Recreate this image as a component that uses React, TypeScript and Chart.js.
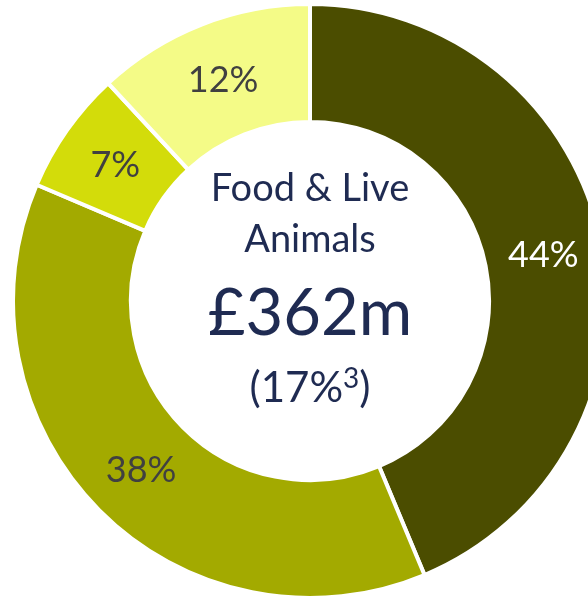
import React, { useEffect, useRef } from "react";
import { Chart, registerables } from "chart.js";

Chart.register(...registerables);

const categories = ["Segment A", "Segment B", "Segment C", "Segment D"];
const shares = [43.7, 37.7, 6.7, 11.9];
const shareLabels = ["44%", "38%", "7%", "12%"];
const sliceColors = ["#4B4D00", "#A3AA00", "#D3DC0A", "#F4FB87"];
const labelColors = ["#FFFFFF", "#404040", "#404040", "#404040"];
const centerTitle = ["Food & Live", "Animals"];
const centerValue = "£362m";
const centerShare = "(17%";
const centerNote = "3";

const FONT = "Lato, 'Noto Sans', sans-serif";

const labelPlugin = {
  id: "labels",
  afterDatasetsDraw(chart: any) {
    const ctx = chart.ctx;
    const meta = chart.getDatasetMeta(0);
    ctx.save();
    ctx.textAlign = "center";
    ctx.textBaseline = "alphabetic";
    ctx.font = `36px ${FONT}`;
    meta.data.forEach((arc: any, i: number) => {
      const p = arc.getCenterPoint();
      ctx.fillStyle = labelColors[i];
      ctx.fillText(shareLabels[i], p.x, p.y + 13);
    });
    const a = meta.data[0];
    const cx = a.x;
    const cy = a.y;
    ctx.fillStyle = "#1F2B52";
    ctx.font = `38px ${FONT}`;
    ctx.fillText(centerTitle[0], cx, cy - 100);
    ctx.fillText(centerTitle[1], cx, cy - 49);
    ctx.font = `65px ${FONT}`;
    ctx.fillText(centerValue, cx, cy + 34);
    ctx.font = `42px ${FONT}`;
    const w1 = ctx.measureText(centerShare).width;
    const w3 = ctx.measureText(")").width;
    ctx.font = `28px ${FONT}`;
    const w2 = ctx.measureText(centerNote).width;
    const total = w1 + w2 + w3;
    let x = cx - total / 2;
    ctx.textAlign = "left";
    ctx.font = `42px ${FONT}`;
    ctx.fillText(centerShare, x, cy + 101);
    x += w1;
    ctx.font = `28px ${FONT}`;
    ctx.fillText(centerNote, x, cy + 87);
    x += w2;
    ctx.font = `42px ${FONT}`;
    ctx.fillText(")", x, cy + 101);
    ctx.restore();
  },
};

export default function App() {
  const ref = useRef<HTMLCanvasElement>(null);
  useEffect(() => {
    if (!ref.current) return;
    const chart = new Chart(ref.current, {
      type: "doughnut",
      data: {
        labels: categories,
        datasets: [
          {
            data: shares,
            backgroundColor: sliceColors,
            borderColor: "#FFFFFF",
            borderWidth: 4,
          },
        ],
      },
      options: {
        responsive: false,
        maintainAspectRatio: false,
        animation: false,
        cutout: "60.3%",
        layout: { padding: 0 },
        plugins: {
          legend: { display: false },
          tooltip: { enabled: false },
        },
      },
      plugins: [labelPlugin],
    });
    return () => chart.destroy();
  }, []);
  return (
    <div
      style={{
        position: "absolute",
        left: 0,
        top: 0,
        width: 588,
        height: 596,
        overflow: "hidden",
        background: "#FFFFFF",
      }}
    >
      <canvas
        ref={ref}
        width={598}
        height={598}
        style={{ position: "absolute", left: 11, top: 2, width: 598, height: 598 }}
      />
    </div>
  );
}
